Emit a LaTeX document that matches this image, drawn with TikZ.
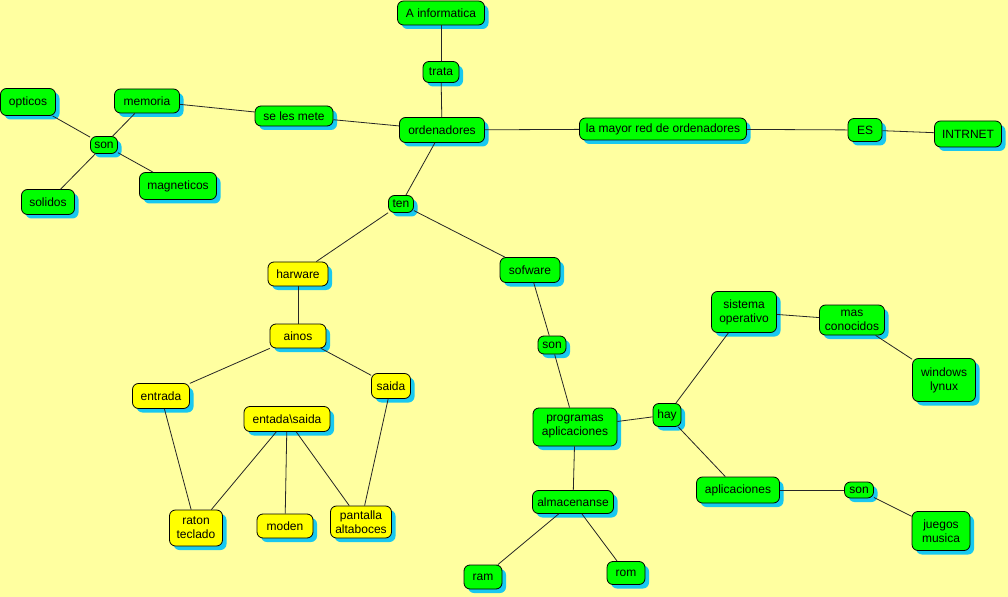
\documentclass[tikz,border=0pt]{standalone}
\usepackage{fontspec}
\setmainfont{Liberation Sans}
\usetikzlibrary{shadows}
\definecolor{bgc}{RGB}{255,255,160}
\definecolor{gfill}{RGB}{0,255,0}
\definecolor{yfill}{RGB}{255,255,0}
\definecolor{shc}{RGB}{24,200,240}
\tikzset{
  box/.style={draw=black, line width=0.8bp, rounded corners=6bp, align=center,
    font=\fontsize{12bp}{14bp}\selectfont, inner sep=1bp,
    drop shadow={shadow xshift=4bp, shadow yshift=-4bp, fill=shc, opacity=1}},
  gbox/.style={box, fill=gfill},
  ybox/.style={box, fill=yfill},
  link/.style={draw=black!85, line width=0.8bp}
}
\begin{document}
\begin{tikzpicture}[x=1bp,y=-1bp]
\fill[bgc] (0,0) rectangle (1008,597);
\useasboundingbox (0,0) rectangle (1008,597);
% nodes
\node[gbox, minimum width=87bp, minimum height=24bp] (info) at (441,13) {A informatica};
\node[gbox, minimum width=36bp, minimum height=21bp] (trata) at (441,72) {trata};
\node[gbox, minimum width=85bp, minimum height=25bp] (orden) at (442,130) {ordenadores};
\node[gbox, minimum width=78bp, minimum height=20bp] (mete) at (294,116) {se les mete};
\node[gbox, minimum width=65bp, minimum height=24bp] (memoria) at (147,101) {memoria};
\node[gbox, minimum width=55bp, minimum height=27bp] (opticos) at (28,102) {opticos};
\node[gbox, minimum width=27bp, minimum height=17bp] (son1) at (104,145) {son};
\node[gbox, minimum width=53bp, minimum height=25bp] (solidos) at (48,202) {solidos};
\node[gbox, minimum width=77bp, minimum height=27bp] (magn) at (178,186) {magneticos};
\node[gbox, minimum width=167bp, minimum height=22bp] (red) at (663,129) {la mayor red de ordenadores};
\node[gbox, minimum width=34bp, minimum height=23bp] (es) at (865,130) {ES};
\node[gbox, minimum width=67bp, minimum height=26bp] (intr) at (968,134) {INTRNET};
\node[gbox, minimum width=25bp, minimum height=17bp] (ten) at (401,204) {ten};
\node[ybox, minimum width=60bp, minimum height=24bp] (harw) at (298,274) {harware};
\node[gbox, minimum width=60bp, minimum height=25bp] (sofw) at (530,270) {sofware};
\node[ybox, minimum width=56bp, minimum height=24bp] (ainos) at (298,336) {ainos};
\node[gbox, minimum width=28bp, minimum height=18bp] (son2) at (552,345) {son};
\node[ybox, minimum width=57bp, minimum height=25bp] (entrada) at (161,396) {entrada};
\node[ybox, minimum width=39bp, minimum height=25bp] (saida) at (391,386) {saida};
\node[ybox, minimum width=86bp, minimum height=25bp] (es2) at (287,419) {entada\textbackslash saida};
\node[ybox, minimum width=53bp, minimum height=36bp] (raton) at (196,528) {raton\\teclado};
\node[ybox, minimum width=56bp, minimum height=24bp] (moden) at (285,526) {moden};
\node[ybox, minimum width=61bp, minimum height=32bp] (pant) at (361,522) {pantalla\\altaboces};
\node[gbox, minimum width=84bp, minimum height=38bp] (prog) at (575,427) {programas\\aplicaciones};
\node[gbox, minimum width=28bp, minimum height=23bp] (hay) at (667,415) {hay};
\node[gbox, minimum width=65bp, minimum height=41bp] (sist) at (744,312) {sistema\\operativo};
\node[gbox, minimum width=65bp, minimum height=30bp] (mas) at (852,320) {mas\\conocidos};
\node[gbox, minimum width=63bp, minimum height=43bp] (win) at (944,380) {windows\\lynux};
\node[gbox, minimum width=83bp, minimum height=26bp] (apli) at (738,490) {aplicaciones};
\node[gbox, minimum width=29bp, minimum height=16bp] (son3) at (859,490) {son};
\node[gbox, minimum width=58bp, minimum height=39bp] (jueg) at (941,531) {juegos\\musica};
\node[gbox, minimum width=81bp, minimum height=23bp] (alma) at (573,502) {almacenanse};
\node[gbox, minimum width=38bp, minimum height=24bp] (ram) at (483,577) {ram};
\node[gbox, minimum width=38bp, minimum height=23bp] (rom) at (626,573) {rom};
% links
\path[link] (info) -- (trata);
\path[link] (trata) -- (orden);
\path[link] (orden) -- (mete);
\path[link] (mete) -- (memoria);
\path[link] (memoria) -- (son1);
\path[link] (son1) -- (opticos);
\path[link] (son1) -- (solidos);
\path[link] (son1) -- (magn);
\path[link] (orden) -- (red);
\path[link] (red) -- (es);
\path[link] (es) -- (intr);
\path[link] (orden) -- (ten);
\path[link] (ten) -- (harw);
\path[link] (ten) -- (sofw);
\path[link] (harw) -- (ainos);
\path[link] (ainos) -- (entrada);
\path[link] (ainos) -- (saida);
\path[link] (entrada) -- (raton);
\path[link] (saida) -- (pant);
\path[link] (es2) -- (raton);
\path[link] (es2) -- (moden);
\path[link] (es2) -- (pant);
\path[link] (sofw) -- (son2);
\path[link] (son2) -- (prog);
\path[link] (prog) -- (hay);
\path[link] (hay) -- (sist);
\path[link] (sist) -- (mas);
\path[link] (mas) -- (win);
\path[link] (hay) -- (apli);
\path[link] (apli) -- (son3);
\path[link] (son3) -- (jueg);
\path[link] (prog) -- (alma);
\path[link] (alma) -- (ram);
\path[link] (alma) -- (rom);
\end{tikzpicture}
\end{document}
